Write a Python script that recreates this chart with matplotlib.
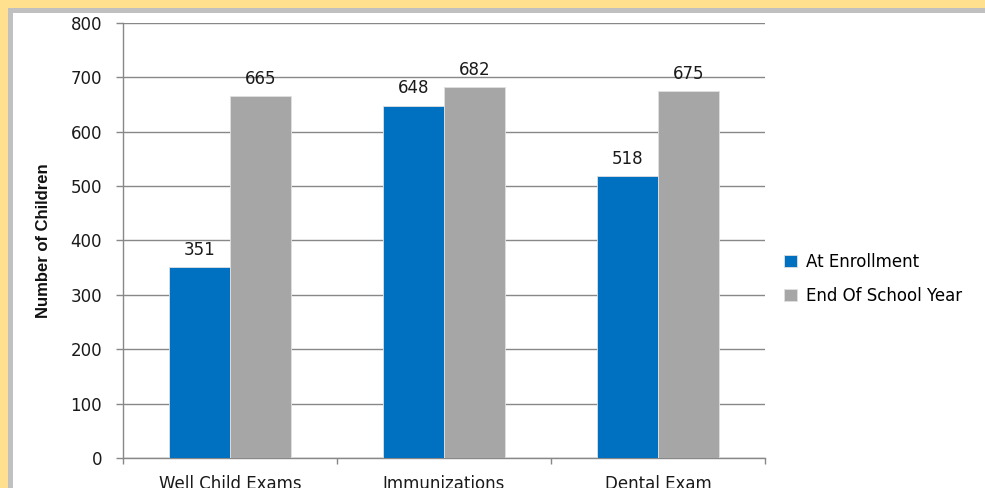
import matplotlib.pyplot as plt
from matplotlib.patches import Rectangle
import numpy as np

# Chart data
categories = ['Well Child Exams', 'Immunizations', 'Dental Exam']
at_enrollment = [351, 648, 518]
end_of_year = [665, 682, 675]
series_names = ['At Enrollment', 'End Of School Year']
blue = '#0070C0'
gray = '#A6A6A6'

fig = plt.figure(figsize=(9.85, 4.88), dpi=100)
fig.patch.set_facecolor('white')

# yellow frame and gray inner edge from the screenshot
fig.patches.append(Rectangle((0, 1 - 13 / 488), 1, 13 / 488, transform=fig.transFigure,
                             facecolor='#C0C0C0', edgecolor='none', zorder=-2))
fig.patches.append(Rectangle((0, 0), 13 / 985, 1, transform=fig.transFigure,
                             facecolor='#C0C0C0', edgecolor='none', zorder=-2))
fig.patches.append(Rectangle((0, 1 - 8 / 488), 1, 8 / 488, transform=fig.transFigure,
                             facecolor='#FFE08F', edgecolor='none', zorder=-1))
fig.patches.append(Rectangle((0, 0), 8 / 985, 1, transform=fig.transFigure,
                             facecolor='#FFE08F', edgecolor='none', zorder=-1))

ax = fig.add_axes([123 / 985, 30 / 488, 642 / 985, 435 / 488])

x = np.arange(len(categories))
w = 0.283
b1 = ax.bar(x - w / 2, at_enrollment, w, color=blue, edgecolor='#E0E0E0', linewidth=0.6,
            label=series_names[0], zorder=3)
b2 = ax.bar(x + w / 2, end_of_year, w, color=gray, edgecolor='#E0E0E0', linewidth=0.6,
            label=series_names[1], zorder=3)

for bars, vals in ((b1, at_enrollment), (b2, end_of_year)):
    for rect, v in zip(bars, vals):
        ax.annotate(str(v), (rect.get_x() + rect.get_width() / 2, v),
                    xytext=(0, 12.5), textcoords='offset points',
                    ha='center', va='center', fontsize=12, color='#1A1A1A')

ax.set_xlim(-0.5, 2.5)
ax.set_ylim(0, 800)
ax.set_yticks(range(0, 801, 100))
ax.yaxis.grid(True, color='#888888', linewidth=1.0, zorder=0)
ax.tick_params(axis='y', length=5, width=1.0, color='#888888', pad=10,
               labelsize=12, labelcolor='#1A1A1A')

ax.set_xticks(x)
ax.set_xticklabels(categories)
ax.set_xticks([-0.5, 0.5, 1.5, 2.5], minor=True)
ax.tick_params(axis='x', which='major', length=0, pad=12, labelsize=12, labelcolor='#1A1A1A')
ax.tick_params(axis='x', which='minor', length=4, width=1.0, color='#888888')

for side in ('top', 'right'):
    ax.spines[side].set_visible(False)
for side in ('left', 'bottom'):
    ax.spines[side].set_color('#888888')
    ax.spines[side].set_linewidth(1.0)

ax.set_ylabel('Number of Children', fontsize=12, fontweight='bold',
              family=['Liberation Sans', 'DejaVu Sans'], color='#111111')
ax.yaxis.set_label_coords(-72 / 642, 0.5)

ax.legend(loc='upper left', bbox_to_anchor=(784 / 985, (488 - 253) / 488),
          bbox_transform=fig.transFigure, frameon=False, fontsize=12,
          borderpad=0, borderaxespad=0, handlelength=0.75, handleheight=0.75,
          handletextpad=0.55, labelspacing=0.95)

fig.savefig('out.png', dpi=100)
